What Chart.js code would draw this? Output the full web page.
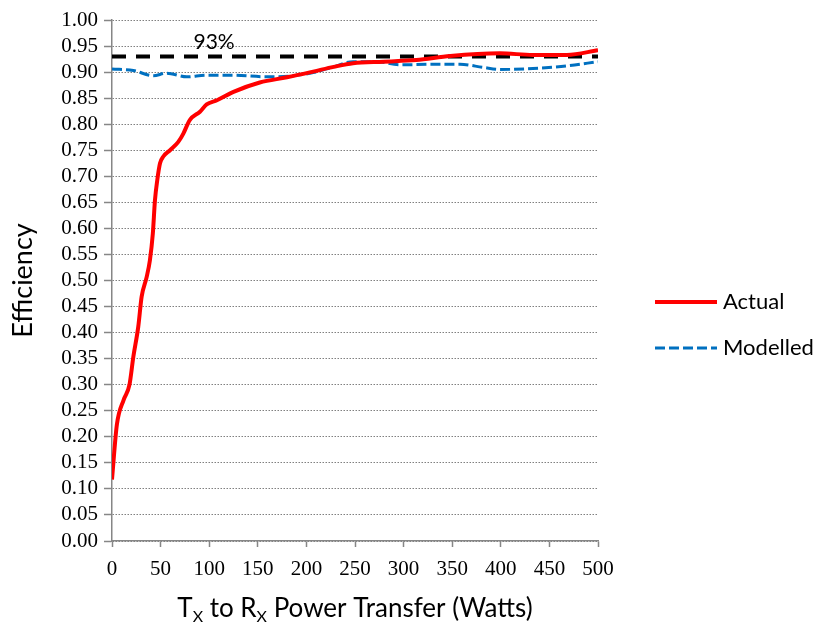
<!DOCTYPE html>
<html>
<head>
<meta charset="utf-8">
<script src="https://cdn.jsdelivr.net/npm/chart.js@4.4.0/dist/chart.umd.min.js"></script>
<style>
html,body{margin:0;padding:0;background:#fff;}
#wrap{width:817px;height:626px;position:relative;}
</style>
</head>
<body>
<div id="wrap"><canvas id="c" width="817" height="626"></canvas></div>
<script>
// Power transfer (W)
const actualX = [0, 5, 12, 18, 22, 27, 30.5, 35.7, 39, 42, 44.2, 46.6, 49.4, 52.8, 59.7, 68.2, 73.4, 80, 90.5, 97.4, 108, 125, 152, 180, 207, 228, 248, 279, 313, 348, 399, 433, 468, 500];
const actualY = [0.118, 0.223, 0.271, 0.300, 0.354, 0.411, 0.469, 0.507, 0.539, 0.590, 0.654, 0.693, 0.725, 0.738, 0.750, 0.766, 0.782, 0.808, 0.824, 0.838, 0.846, 0.862, 0.880, 0.890, 0.901, 0.910, 0.917, 0.920, 0.923, 0.931, 0.936, 0.933, 0.933, 0.942];
const modelX = [0, 22, 42.5, 56, 77, 97, 124.5, 159, 186.5, 207, 227.6, 248, 272, 296, 330, 358, 382, 399, 433, 468, 500];
const modelY = [0.906, 0.903, 0.893, 0.898, 0.891, 0.894, 0.894, 0.891, 0.893, 0.899, 0.910, 0.920, 0.920, 0.914, 0.915, 0.915, 0.909, 0.905, 0.907, 0.912, 0.920];
const targetX = [0, 500];
const targetY = [0.93, 0.93];
const targetLabel = '93%';
const seriesNames = ['Actual', 'Modelled'];
const yTitle = 'Efficiency';
const xTitleParts = [['T', false], ['X', true], [' to R', false], ['X', true], [' Power Transfer (Watts)', false]];

const pts = (xs, ys) => xs.map((x, i) => ({x: x, y: ys[i]}));
const AXIS = '#868686';

const overlay = {
  id: 'overlay',
  afterDraw(chart) {
    const ctx = chart.ctx;
    const ca = chart.chartArea;
    const xs = chart.scales.x, ys = chart.scales.y;
    ctx.save();
    // 93% label
    ctx.fillStyle = '#000';
    ctx.font = '21px Lato';
    ctx.textAlign = 'center';
    ctx.textBaseline = 'alphabetic';
    ctx.fillText(targetLabel, xs.getPixelForValue(105), ys.getPixelForValue(0.93) - 7);
    // x title with subscripts
    const big = '26px Lato', small = '16px Lato';
    let total = 0;
    xTitleParts.forEach(p => { ctx.font = p[1] ? small : big; total += ctx.measureText(p[0]).width; });
    let x = (ca.left + ca.right) / 2 - total / 2;
    const base = 617;
    ctx.textAlign = 'left';
    xTitleParts.forEach(p => {
      ctx.font = p[1] ? small : big;
      ctx.fillText(p[0], x, p[1] ? base + 5 : base);
      x += ctx.measureText(p[0]).width;
    });
    // legend
    const ds = chart.data.datasets;
    const items = [[0, 302], [1, 348]];
    items.forEach(([i, y]) => {
      const d = ds[i];
      ctx.beginPath();
      ctx.strokeStyle = d.borderColor;
      ctx.lineWidth = d.borderWidth;
      ctx.setLineDash(d.borderDash || []);
      ctx.moveTo(655, y);
      ctx.lineTo(717, y);
      ctx.stroke();
      ctx.setLineDash([]);
      ctx.fillStyle = '#000';
      ctx.font = '22px Lato';
      ctx.textBaseline = 'middle';
      ctx.fillText(d.label, 723, y);
    });
    ctx.restore();
  }
};

new Chart(document.getElementById('c'), {
  type: 'line',
  data: {
    datasets: [
      {label: seriesNames[0], data: pts(actualX, actualY), borderColor: '#ff0000', borderWidth: 4, pointRadius: 0, cubicInterpolationMode: 'monotone', order: 1},
      {label: seriesNames[1], data: pts(modelX, modelY), borderColor: '#0070c0', borderWidth: 3, borderDash: [10, 4], pointRadius: 0, cubicInterpolationMode: 'monotone', order: 2},
      {label: targetLabel, data: pts(targetX, targetY), borderColor: '#000000', borderWidth: 4, borderDash: [14, 10], pointRadius: 0, order: 3}
    ]
  },
  options: {
    responsive: false,
    animation: false,
    layout: {padding: {left: 0, right: 219, top: 20, bottom: 0}},
    plugins: {legend: {display: false}, tooltip: {enabled: false}},
    scales: {
      x: {
        type: 'linear', min: 0, max: 500,
        afterFit: s => { s.height = 85; },
        ticks: {stepSize: 50, color: '#000', font: {family: 'Liberation Serif', size: 21}, padding: 10, maxRotation: 0, autoSkip: false},
        grid: {drawOnChartArea: false, drawTicks: true, tickLength: 6, tickColor: AXIS, tickWidth: 1.5},
        border: {color: AXIS, width: 1.5}
      },
      y: {
        type: 'linear', min: 0, max: 1,
        afterFit: s => { s.width = 112; },
        ticks: {stepSize: 0.05, color: '#000', font: {family: 'Liberation Serif', size: 21}, padding: 6, autoSkip: false, callback: v => v.toFixed(2)},
        grid: {color: '#808080', lineWidth: 1, tickBorderDash: [], tickColor: AXIS, tickLength: 8, tickWidth: 1.5},
        border: {color: AXIS, width: 1.5, dash: [1.5, 1.5]},
        title: {display: true, text: yTitle, color: '#000', font: {family: 'Lato', size: 27}, padding: {top: 7, bottom: 2}}
      }
    }
  },
  plugins: [overlay]
});
</script>
</body>
</html>
